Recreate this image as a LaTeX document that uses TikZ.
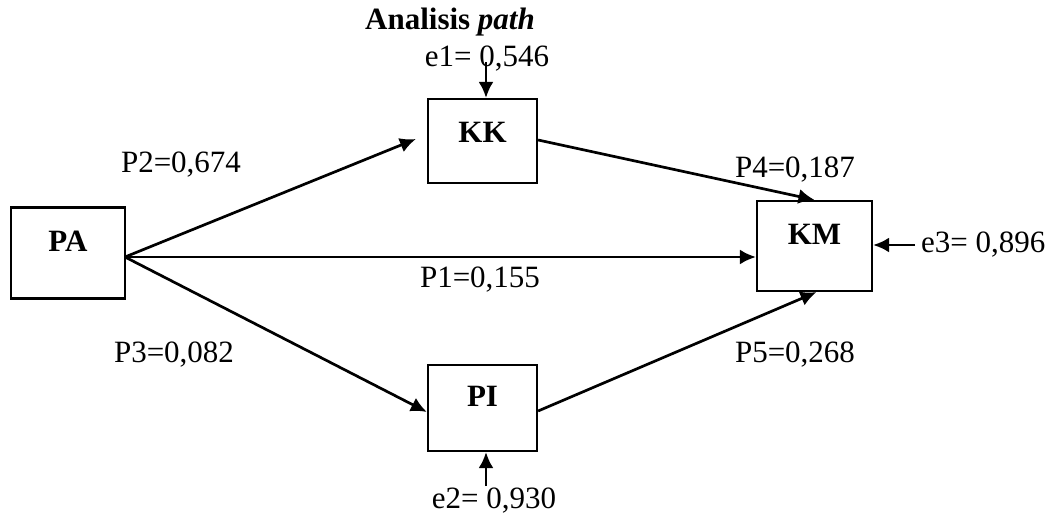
\documentclass[tikz,border=0pt]{standalone}
\usepackage{fontspec}
\setmainfont{Liberation Serif}
\usetikzlibrary{arrows.meta}
\begin{document}
\begin{tikzpicture}[x=1pt,y=-1pt,
  every node/.style={font=\fontsize{31}{37}\selectfont, inner sep=0pt},
  varbox/.style={draw, line width=2.2pt, font=\fontsize{31}{37}\selectfont\bfseries, text height=21pt, text depth=24pt},
  conn/.style={line width=2.7pt, -{Latex[length=16pt,width=15pt]}},
  lbl/.style={font=\fontsize{31}{37}\selectfont}]
\useasboundingbox (0,0) rectangle (1058,516);
\node[varbox, minimum width=114pt, minimum height=91pt] (PA) at (68,253) {PA};
\node[varbox, minimum width=109pt, minimum height=84pt, text depth=18pt] (KK) at (482.5,141) {KK};
\node[varbox, minimum width=115pt, minimum height=90pt] (KM) at (814.5,246) {KM};
\node[varbox, minimum width=109pt, minimum height=86pt] (PI) at (482.5,408) {PI};
\node[font=\fontsize{31}{37}\selectfont\bfseries] (title) at (450,22) {Analisis \textit{path}};
\node[lbl] (e1) at (487,59) {e1= 0,546};
\node[lbl] (e2) at (494,501) {e2= 0,930};
\node[lbl, anchor=west] (e3) at (921,245) {e3= 0,896};
\coordinate (src) at (125,257);
\coordinate (e1s) at (486,62);
\coordinate (e2s) at (486,486);
\coordinate (e3s) at (915,245);
\draw[conn] (src) -- ([xshift=-11pt,yshift=2pt]KK.west);
\draw[conn] (src) -- (KM.west |- src);
\draw[conn] (src) -- ([yshift=-4pt]PI.west);
\draw[conn] ([yshift=1pt]KK.east) -- (KM.north);
\draw[conn] ([yshift=-3pt]PI.east) -- ([xshift=2pt]KM.south);
\draw[conn] (e1s) -- ([xshift=3.5pt]KK.north);
\draw[conn] (e2s) -- ([xshift=3.5pt]PI.south);
\draw[conn] (e3s) -- (KM.east |- e3s);
\node[lbl] (p2) at (181,165) {P2=0,674};
\node[lbl] (p4) at (795,170) {P4=0,187};
\node[lbl] (p1) at (480,280) {P1=0,155};
\node[lbl] (p3) at (174,355) {P3=0,082};
\node[lbl] (p5) at (795,355) {P5=0,268};
\end{tikzpicture}
\end{document}
